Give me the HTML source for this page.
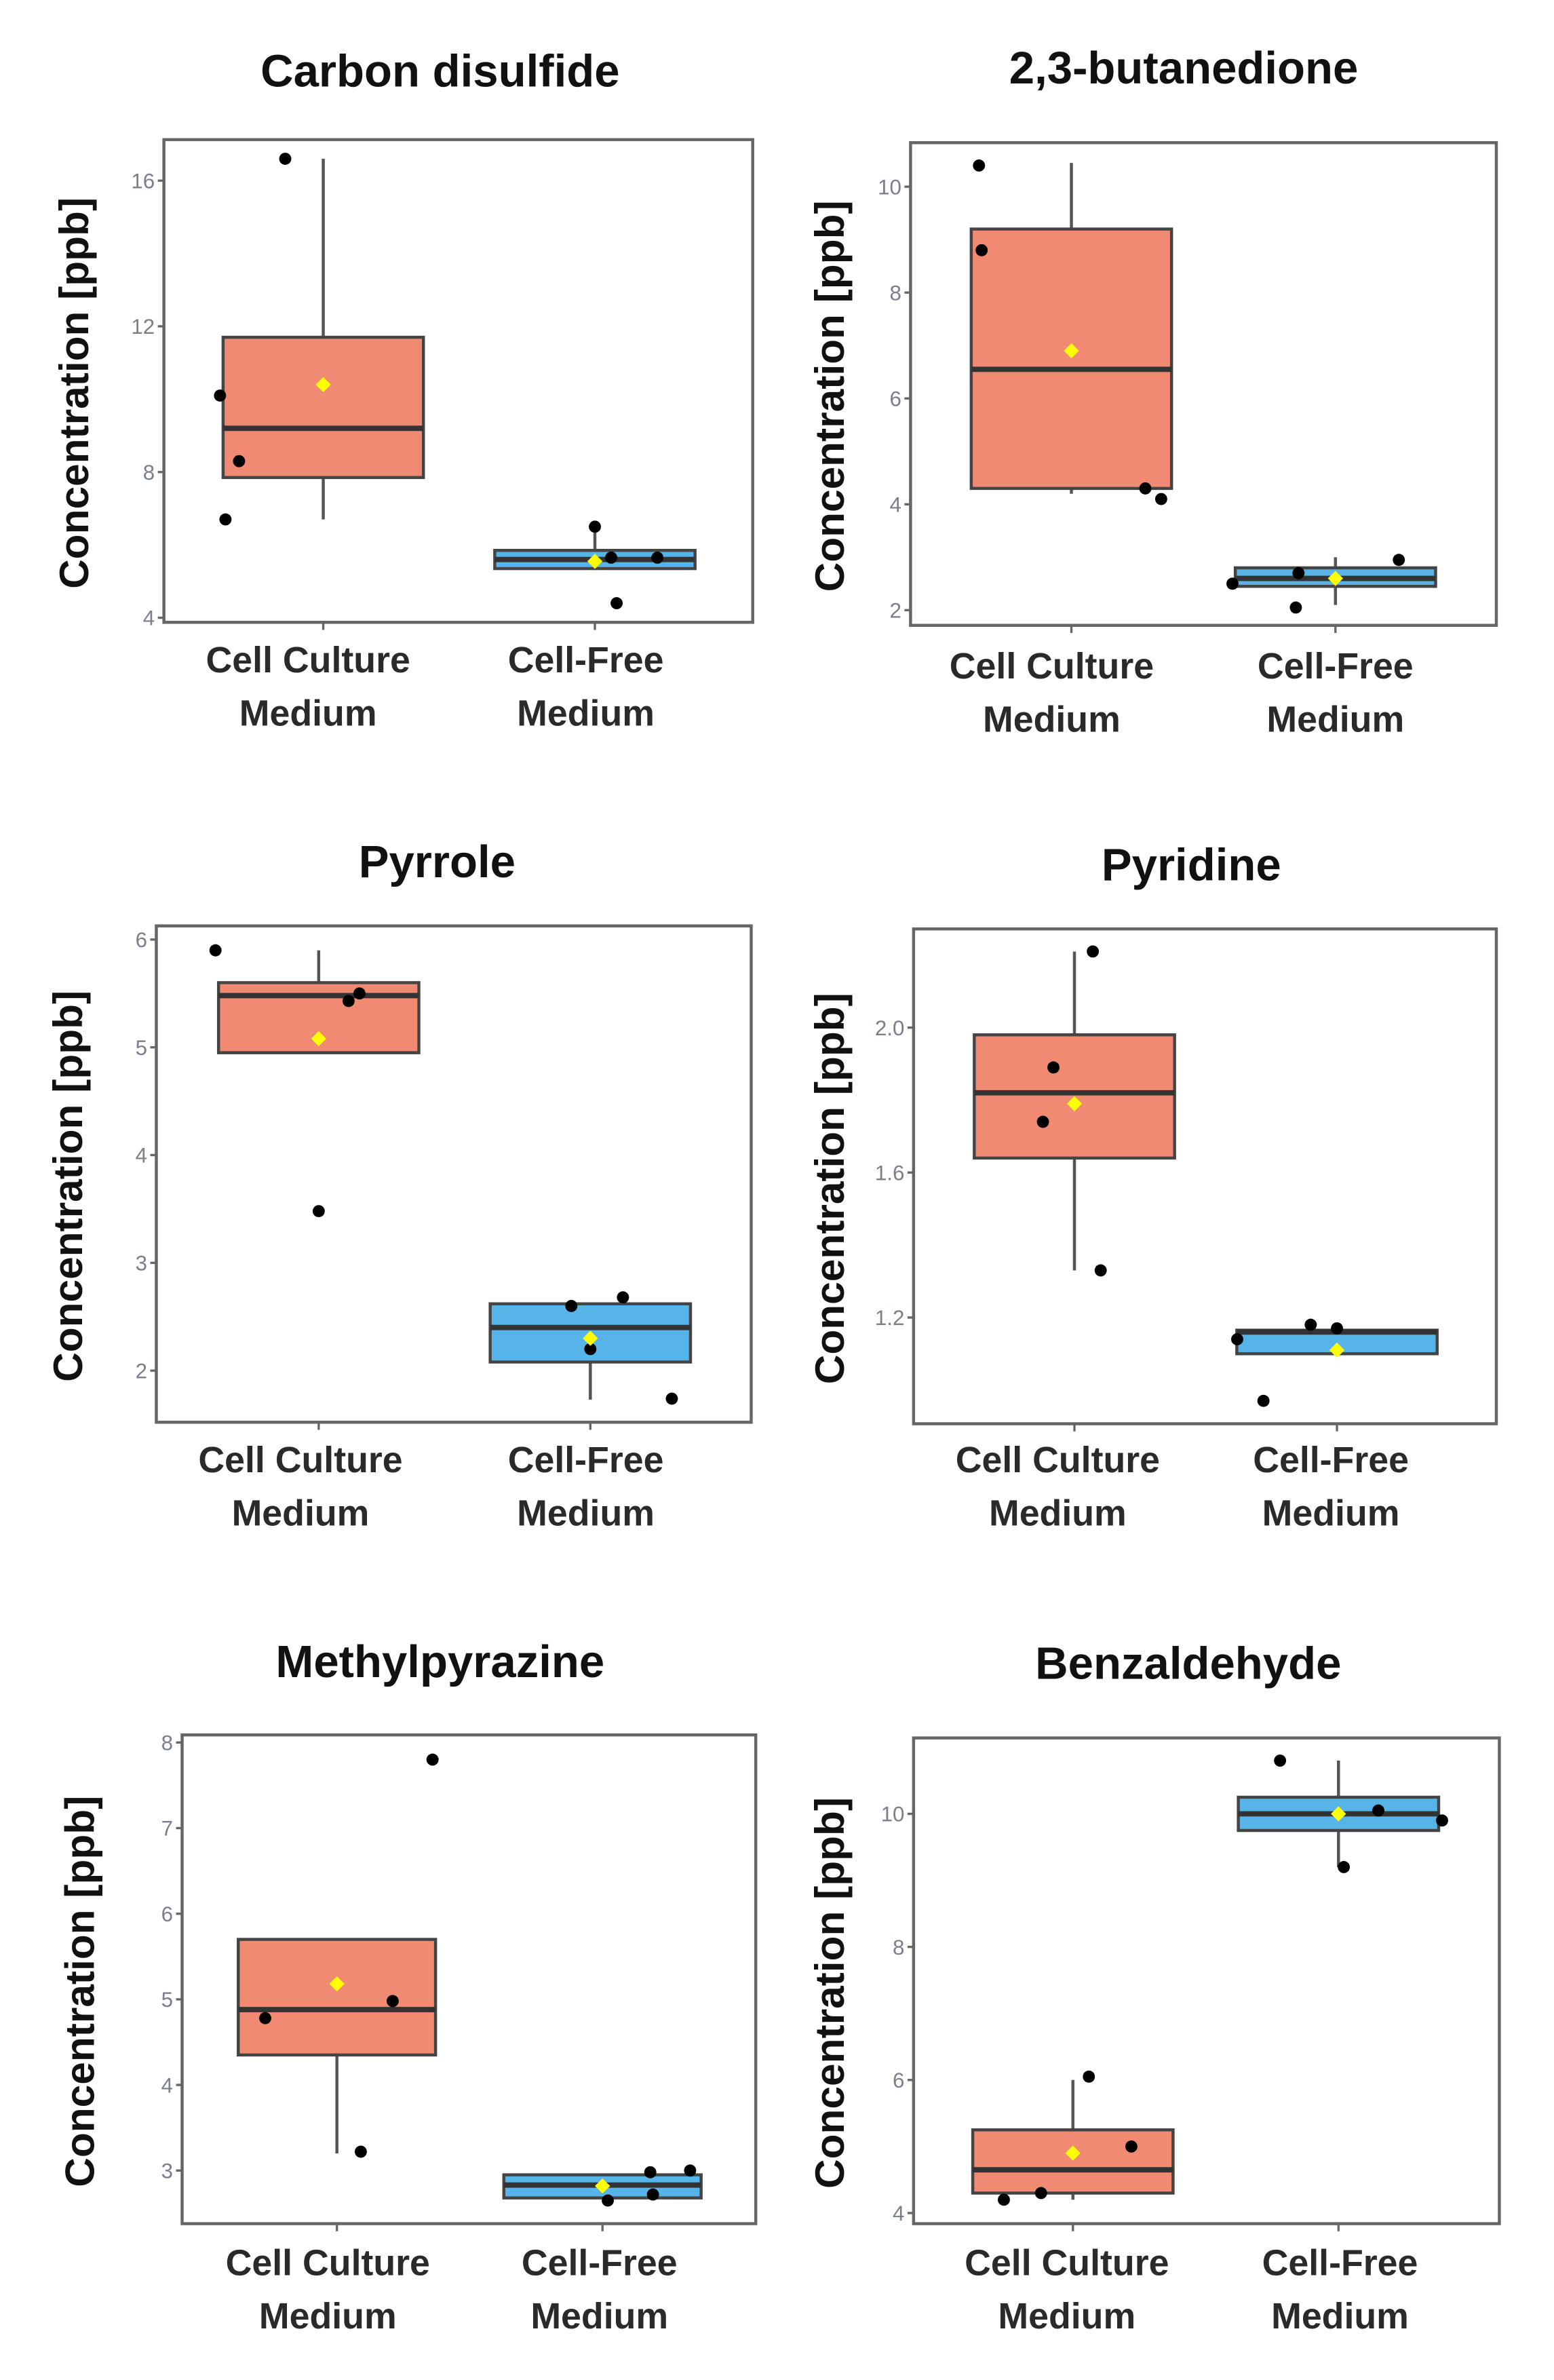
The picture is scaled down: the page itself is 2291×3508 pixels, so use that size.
<!DOCTYPE html>
<html><head><meta charset="utf-8">
<style>
html,body{margin:0;padding:0;background:#fff;}
svg{display:block;}
text{font-family:"Liberation Sans",sans-serif;}
</style></head>
<body>
<svg id="fig" width="2291" height="3508" viewBox="0 0 1024 1568" xmlns="http://www.w3.org/2000/svg"></svg>
<script>
// ---- data ----
const titles = ["Carbon disulfide","2,3-butanedione","Pyrrole","Pyridine","Methylpyrazine","Benzaldehyde"];
const categories = ["Cell Culture Medium","Cell-Free Medium"];
// [whiskerLow, q1, median, q3, whiskerHigh] per category
const ccStats = [[6.7,7.85,9.2,11.7,16.6],[4.2,4.3,6.55,9.2,10.45],[5.48,4.95,5.48,5.6,5.9],[1.33,1.64,1.82,1.98,2.21],[3.2,4.35,4.88,5.7,5.7],[4.2,4.3,4.65,5.25,6.0]];
const cfStats = [[5.35,5.35,5.6,5.85,6.5],[2.1,2.45,2.6,2.8,3.0],[1.73,2.08,2.4,2.62,2.62],[1.10,1.10,1.16,1.165,1.165],[2.68,2.68,2.83,2.95,2.95],[9.2,9.75,10.0,10.25,10.8]];
const ccMeans = [10.4,6.9,5.08,1.79,5.18,4.9];
const cfMeans = [5.55,2.6,2.3,1.11,2.82,10.0];
const ccPoints = [[10.1,8.3,6.7,16.6],[10.4,8.8,4.3,4.1],[5.9,5.43,5.5,3.48],[2.21,1.89,1.74,1.33],[7.8,4.78,4.98,3.22],[4.2,4.3,6.05,5.0]];
const cfPoints = [[6.5,5.65,5.65,4.4],[2.5,2.7,2.05,2.95],[2.6,2.2,2.68,1.74],[1.14,1.18,1.17,0.97],[2.98,3.0,2.65,2.72],[10.8,10.05,9.9,9.2]];
// jitter in category-width units (offset from category centre)
const ccJitter = [[-0.38,-0.31,-0.36,-0.14],[-0.35,-0.34,0.28,0.34],[-0.38,0.11,0.15,0.0],[0.07,-0.08,-0.12,0.1],[0.36,-0.27,0.21,0.09],[-0.26,-0.12,0.06,0.22]];
const cfJitter = [[0.0,0.06,0.23,0.08],[-0.39,-0.14,-0.15,0.24],[-0.07,0.0,0.12,0.3],[-0.38,-0.1,0.0,-0.28],[0.18,0.33,0.02,0.19],[-0.22,0.15,0.39,0.02]];
const yTicks = [[4,8,12,16],[2,4,6,8,10],[2,3,4,5,6],[1.2,1.6,2.0],[3,4,5,6,7,8],[4,6,8,10]];
const tickLabels = [["4","8","12","16"],["2","4","6","8","10"],["2","3","4","5","6"],["1.2","1.6","2.0"],["3","4","5","6","7","8"],["4","6","8","10"]];
// ---- layout (not data) ----
const panels = [
 {x0:108,x1:496,y0:92,y1:410,t:[4,407,16,119],cx:[213,392],bw:66,title:[290,47],yl:48,lx:[203,386],ly:434},
 {x0:600,x1:986,y0:94,y1:412,t:[2,402,10,123],cx:[706,880],bw:66,title:[780,45],yl:546,lx:[693,880],ly:438},
 {x0:103,x1:495,y0:610,y1:937,t:[2,903,6,619],cx:[210,389],bw:66,title:[288,568],yl:44,lx:[198,386],ly:961},
 {x0:602,x1:986,y0:612,y1:938,t:[1.2,868,2.0,677],cx:[708,881],bw:66,title:[785,570],yl:546,lx:[697,877],ly:961},
 {x0:120,x1:498,y0:1143,y1:1465,t:[3,1430,8,1148],cx:[222,397],bw:65,title:[290,1095],yl:52,lx:[216,395],ly:1490},
 {x0:602,x1:988,y0:1145,y1:1465,t:[4,1458,10,1195],cx:[707,882],bw:66,title:[783,1096],yl:546,lx:[703,883],ly:1490}
];
const NS="http://www.w3.org/2000/svg";
const svg=document.getElementById('fig');
function mk(tag,attrs,parent){const e=document.createElementNS(NS,tag);for(const k in attrs)e.setAttribute(k,attrs[k]);(parent||svg).appendChild(e);return e;}
const fills=["#F08A73","#56B4E9"];
panels.forEach((p,i)=>{
  const g=mk('g',{});
  
  
  const y=v=>p.t[1]+(v-p.t[0])*(p.t[3]-p.t[1])/(p.t[2]-p.t[0]);
  const bandW=(p.cx[1]-p.cx[0]);
  const t=mk('text',{x:p.title[0],y:p.title[1]+10,'text-anchor':'middle','font-size':30,'font-weight':'bold',fill:'#111'},g);
  t.textContent=titles[i];
  
  
  const cy=(p.y0+p.y1)/2+8;
  const yl=mk('text',{x:0,y:0,transform:`translate(${p.yl+10},${cy}) rotate(-90)`,'text-anchor':'middle','font-size':27,'font-weight':'bold',fill:'#111'},g);
  yl.textContent='Concentration [ppb]';
  
  
  const fr=mk('rect',{x:p.x0,y:p.y0,width:p.x1-p.x0,height:p.y1-p.y0,fill:'#fff',stroke:'#666','stroke-width':2},g);
  
  
  yTicks[i].forEach((v,k)=>{
    const yy=y(v);
    mk('line',{x1:p.x0-4,x2:p.x0,y1:yy,y2:yy,stroke:'#666','stroke-width':1.5},g);
    const tl=mk('text',{x:p.x0-6,y:yy+5,'text-anchor':'end','font-size':14,fill:'#7a7f8c'},g);
    tl.textContent=tickLabels[i][k];
    
    
  });
  [0,1].forEach(c=>{
    const s=(c==0?ccStats:cfStats)[i];
    const cx=p.cx[c];
    mk('line',{x1:cx,x2:cx,y1:p.y1,y2:p.y1+5,stroke:'#666','stroke-width':1.5},g);
    const words=categories[c].split(' ');
    const l1=words.slice(0,-1).join(' '), l2=words[words.length-1];
    const xl=mk('text',{x:p.lx[c],y:p.ly+9,'text-anchor':'middle','font-size':24,'font-weight':'bold',fill:'#2a2a2a'},g);
    
    
    const a=mk('tspan',{x:p.lx[c]},xl);a.textContent=l1;
    const b=mk('tspan',{x:p.lx[c],dy:35},xl);b.textContent=l2;
    const bg=mk('g',{},g);
    
    
    mk('line',{x1:cx,x2:cx,y1:y(s[0]),y2:y(s[4]),stroke:'#555','stroke-width':2},bg);
    mk('rect',{x:cx-p.bw,y:y(s[3]),width:2*p.bw,height:Math.max(1,y(s[1])-y(s[3])),fill:fills[c],stroke:'#444','stroke-width':2},bg);
    mk('line',{x1:cx-p.bw,x2:cx+p.bw,y1:y(s[2]),y2:y(s[2]),stroke:'#333','stroke-width':3.5},bg);
    const pts=(c==0?ccPoints:cfPoints)[i], jit=(c==0?ccJitter:cfJitter)[i];
    pts.forEach((v,k)=>{
      const d=mk('circle',{cx:cx+jit[k]*bandW,cy:y(v),r:4,fill:'#000'},bg);
      
      
    });
    const m=(c==0?ccMeans:cfMeans)[i];
    const mp=mk('path',{d:`M${cx},${y(m)-5} L${cx+5},${y(m)} L${cx},${y(m)+5} L${cx-5},${y(m)} Z`,fill:'#FFFF00'},bg);
    
    
  });
});
</script>
</body></html>
